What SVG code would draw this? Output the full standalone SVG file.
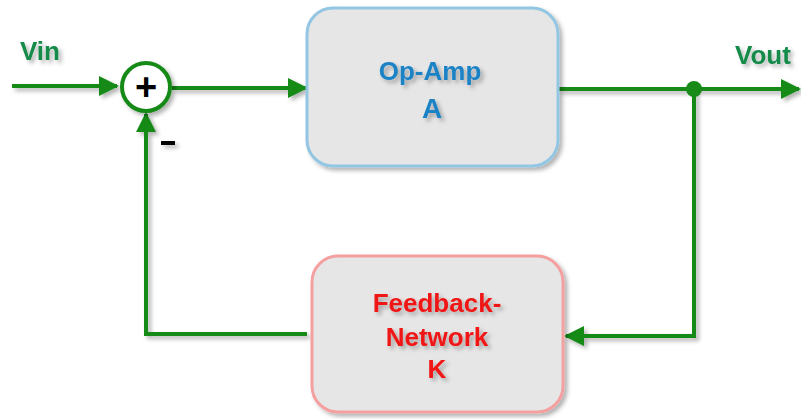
<svg xmlns="http://www.w3.org/2000/svg" width="801" height="419" viewBox="0 0 801 419">
<defs>
<filter id="sh" filterUnits="userSpaceOnUse" x="0" y="0" width="801" height="419">
<feDropShadow dx="3" dy="3" stdDeviation="2" flood-color="#000" flood-opacity="0.3"/>
</filter>
<marker id="arr" viewBox="0 0 10 10" refX="9" refY="5" markerWidth="5" markerHeight="5" orient="auto" markerUnits="strokeWidth">
<path d="M0,0 L10,5 L0,10 z" fill="#178a17"/>
</marker>
</defs>
<style>
.wire{fill:none;stroke:#178a17;stroke-width:4;filter:url(#sh)}
.box{fill:#e6e6e6;stroke-width:3;filter:url(#sh)}
.lbl{font-family:"Liberation Sans",Arial,sans-serif;font-weight:bold;text-anchor:middle}
</style>
<rect width="801" height="419" fill="#fff"/>
<g id="connectors">
<path class="wire" d="M12,86 L117,86" marker-end="url(#arr)"/>
<path class="wire" d="M172,88 L306,88" marker-end="url(#arr)"/>
<path class="wire" d="M558,89 L799,89" marker-end="url(#arr)"/>
<path class="wire" d="M694,89 L694,336 L566,336" marker-end="url(#arr)"/>
<path class="wire" d="M307,334 L146,334 L146,114" marker-end="url(#arr)"/>
<circle cx="694" cy="89" r="8" fill="#178a17"/>
</g>
<g id="vin"><text class="lbl" x="40" y="60" font-size="26" fill="#138a4a" filter="url(#sh)">Vin</text></g>
<g id="vout"><text class="lbl" x="763" y="64" font-size="26" fill="#138a4a" filter="url(#sh)">Vout</text></g>
<g id="sum">
<circle cx="146" cy="87" r="24" fill="#fff" stroke="#178a17" stroke-width="4" filter="url(#sh)"/>
<text class="lbl" x="146" y="100" font-size="38" fill="#000">+</text>
<rect x="161" y="141" width="14" height="4" fill="#000" filter="url(#sh)"/>
</g>
<g id="opamp">
<rect class="box" x="307" y="8" width="251" height="158" rx="26" stroke="#93c6e2"/>
<text class="lbl" x="430" y="80" font-size="26" fill="#1b82c6" filter="url(#sh)">Op-Amp</text>
<text class="lbl" x="432" y="118" font-size="28" fill="#1b82c6" filter="url(#sh)">A</text>
</g>
<g id="feedback">
<rect class="box" x="312" y="256" width="251" height="156" rx="26" stroke="#f4a0a0"/>
<text class="lbl" x="437" y="312" font-size="26" fill="#f01414" filter="url(#sh)">Feedback-</text>
<text class="lbl" x="437" y="346" font-size="26" fill="#f01414" filter="url(#sh)">Network</text>
<text class="lbl" x="437" y="378" font-size="26" fill="#f01414" filter="url(#sh)">K</text>
</g>
</svg>
